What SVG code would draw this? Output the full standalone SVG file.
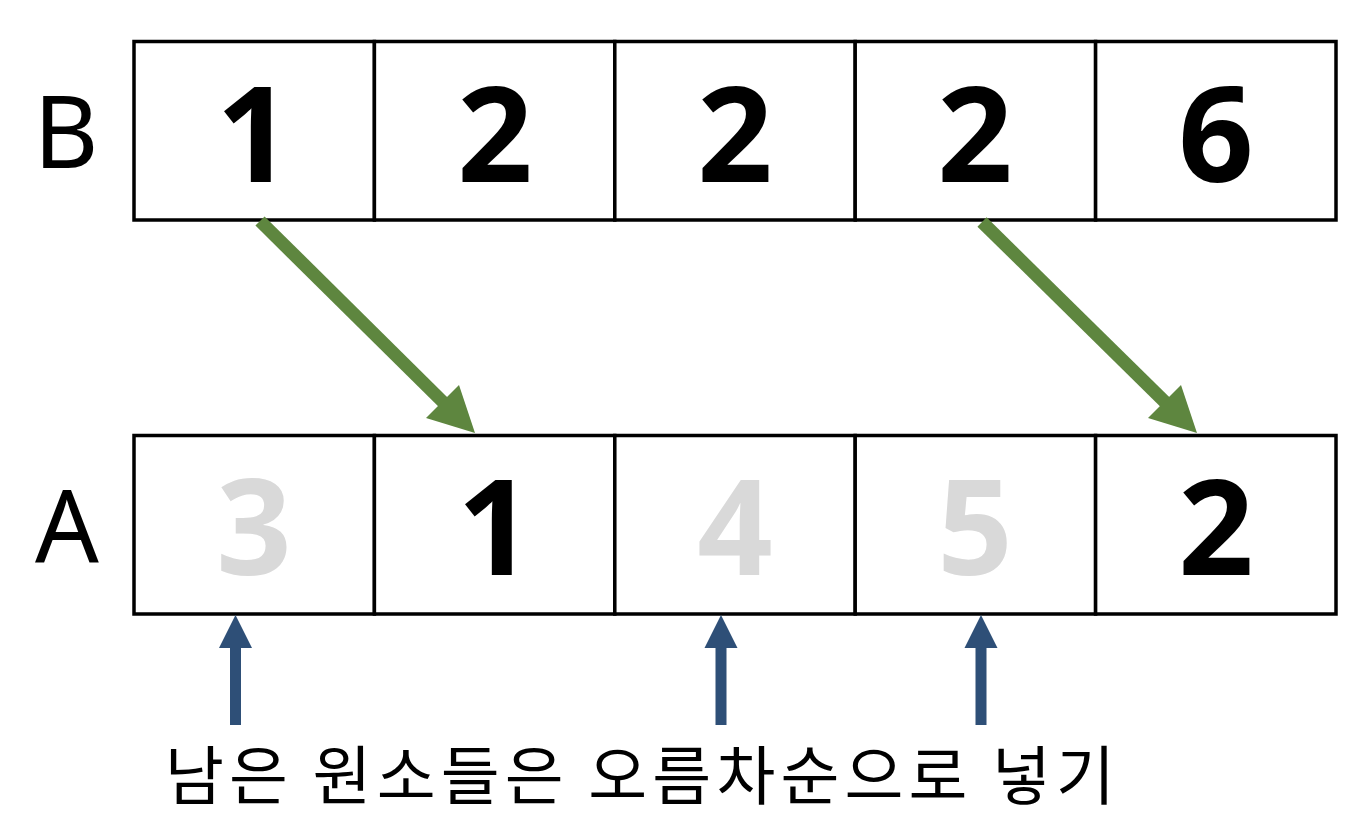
<svg xmlns="http://www.w3.org/2000/svg" width="1370" height="830" viewBox="0 0 1370 830">
<style>
.cell{fill:#fff;stroke:#000;stroke-width:3.5}
.num{font-family:"Noto Sans","Noto Sans CJK KR",sans-serif;font-weight:bold;font-size:132px;text-anchor:middle}
.dim{fill:#D9D9D9}
.blk{fill:#000}
.lbl{font-family:"Noto Sans","Noto Sans CJK KR",sans-serif;font-size:100px;text-anchor:middle;fill:#000}
.gshaft{stroke:#5E863F;stroke-width:13;fill:none}
.ghead{fill:#5E863F}
.blue{fill:#2E4F77}
.cap{font-family:"Noto Sans CJK KR","Noto Sans",sans-serif;font-size:64px;fill:#000}
</style>
<rect width="1370" height="830" fill="#fff"/>
<g id="labelB"><text class="lbl" x="66" y="168">B</text></g>
<g id="labelA"><text class="lbl" x="67" y="562">A</text></g>
<g id="arrayB">
<g id="B0"><rect class="cell" x="134" y="41.5" width="240.4" height="178.5"/><text class="num blk" x="254" y="182">1</text></g>
<g id="B1"><rect class="cell" x="374.4" y="41.5" width="240.4" height="178.5"/><text class="num blk" x="495" y="182">2</text></g>
<g id="B2"><rect class="cell" x="614.8" y="41.5" width="240.4" height="178.5"/><text class="num blk" x="735" y="182">2</text></g>
<g id="B3"><rect class="cell" x="855.2" y="41.5" width="240.4" height="178.5"/><text class="num blk" x="975" y="182">2</text></g>
<g id="B4"><rect class="cell" x="1095.6" y="41.5" width="240.4" height="178.5"/><text class="num blk" x="1216" y="182">6</text></g>
</g>
<g id="arrayA">
<g id="A0"><rect class="cell" x="134" y="435.5" width="240.4" height="178.5"/><text class="num dim" x="254" y="575">3</text></g>
<g id="A1"><rect class="cell" x="374.4" y="435.5" width="240.4" height="178.5"/><text class="num blk" x="495" y="575">1</text></g>
<g id="A2"><rect class="cell" x="614.8" y="435.5" width="240.4" height="178.5"/><text class="num dim" x="735" y="575">4</text></g>
<g id="A3"><rect class="cell" x="855.2" y="435.5" width="240.4" height="178.5"/><text class="num dim" x="975" y="575">5</text></g>
<g id="A4"><rect class="cell" x="1095.6" y="435.5" width="240.4" height="178.5"/><text class="num blk" x="1216" y="575">2</text></g>
</g>
<g id="connectors">
<line class="gshaft" x1="260" y1="221" x2="445" y2="404"/>
<polygon class="ghead" points="426,418 459,385 475,433"/>
<line class="gshaft" x1="982" y1="222" x2="1167" y2="404"/>
<polygon class="ghead" points="1148,418 1181,385 1197,433"/>
<rect class="blue" x="230" y="646" width="11" height="79"/>
<polygon class="blue" points="219,648 252,648 235.5,615"/>
<rect class="blue" x="715.5" y="646" width="11" height="79"/>
<polygon class="blue" points="704.5,648 737.5,648 721,615"/>
<rect class="blue" x="975.5" y="646" width="11" height="79"/>
<polygon class="blue" points="964.5,648 997.5,648 981,615"/>
</g>
<g id="caption"><text class="cap" x="165" y="799" textLength="950" lengthAdjust="spacing">남은 원소들은 오름차순으로 넣기</text></g>
</svg>
